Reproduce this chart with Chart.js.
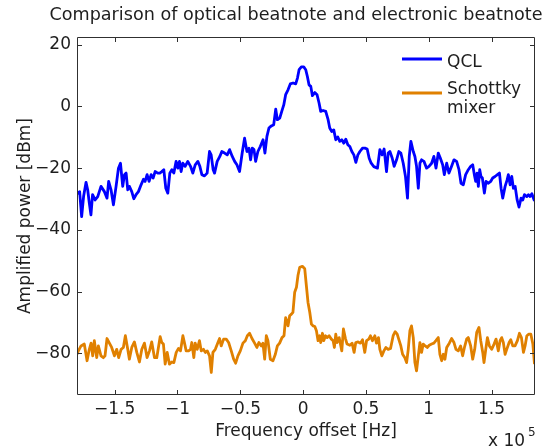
<!DOCTYPE html>
<html>
<head>
<meta charset="utf-8">
<title>Comparison of optical beatnote and electronic beatnote</title>
<script src="https://cdn.jsdelivr.net/npm/chart.js@4.4.1/dist/chart.umd.min.js"></script>
<style>
  html, body { margin: 0; padding: 0; background: #fff; }
  #wrap { width: 552px; height: 448px; }
</style>
</head>
<body>
<div id="wrap"><canvas id="beatnote"></canvas></div>
<script>
// frequency offsets are in units of 1e5 Hz (the axis shows "x 10^5")
const qclFreq = [
  -1.800, -1.789, -1.779, -1.763, -1.747, -1.728, -1.715, -1.702, -1.689, -1.676, -1.656, -1.635, -1.609, -1.582,
  -1.561, -1.548, -1.529, -1.510, -1.489, -1.470, -1.454, -1.436, -1.422, -1.409, -1.396, -1.383, -1.364, -1.348,
  -1.330, -1.311, -1.290, -1.271, -1.258, -1.242, -1.226, -1.210, -1.194, -1.178, -1.157, -1.141, -1.125, -1.109,
  -1.093, -1.077, -1.061, -1.045, -1.029, -1.011, -0.997, -0.984, -0.971, -0.958, -0.939, -0.918, -0.896, -0.878,
  -0.859, -0.838, -0.822, -0.806, -0.785, -0.764, -0.745, -0.732, -0.716, -0.705, -0.684, -0.663, -0.647, -0.625,
  -0.604, -0.585, -0.564, -0.545, -0.527, -0.506, -0.485, -0.466, -0.447, -0.431, -0.418, -0.405, -0.391, -0.378,
  -0.360, -0.341, -0.319, -0.304, -0.288, -0.272, -0.253, -0.234, -0.218, -0.205, -0.186, -0.170, -0.154, -0.139,
  -0.120, -0.102, -0.080, -0.059, -0.045, -0.032, -0.014, 0.005, 0.021, 0.034, 0.047, 0.061, 0.074, 0.093,
  0.111, 0.127, 0.140, 0.159, 0.180, 0.199, 0.212, 0.228, 0.244, 0.260, 0.276, 0.292, 0.308, 0.324,
  0.340, 0.356, 0.372, 0.388, 0.404, 0.420, 0.436, 0.452, 0.473, 0.492, 0.510, 0.526, 0.542, 0.563,
  0.592, 0.611, 0.629, 0.645, 0.664, 0.677, 0.691, 0.709, 0.725, 0.744, 0.762, 0.778, 0.797, 0.815,
  0.831, 0.845, 0.858, 0.877, 0.890, 0.903, 0.917, 0.930, 0.943, 0.962, 0.983, 1.002, 1.023, 1.041,
  1.058, 1.076, 1.092, 1.111, 1.124, 1.143, 1.161, 1.182, 1.201, 1.222, 1.241, 1.257, 1.275, 1.294,
  1.315, 1.334, 1.350, 1.363, 1.374, 1.385, 1.395, 1.406, 1.416, 1.427, 1.443, 1.456, 1.475, 1.493,
  1.509, 1.528, 1.547, 1.563, 1.576, 1.589, 1.608, 1.624, 1.634, 1.648, 1.661, 1.674, 1.688, 1.704,
  1.719, 1.735, 1.749, 1.762, 1.781, 1.794, 1.807, 1.821, 1.839, 1.846
];
const qclPower = [
  -27.6, -28.1, -27.6, -35.7, -29.0, -24.6, -27.0, -31.3, -35.1, -28.6, -30.3, -29.2, -25.9, -27.6,
  -29.7, -24.3, -27.0, -31.9, -25.9, -20.0, -18.4, -25.9, -22.1, -21.6, -27.0, -25.9, -27.6, -29.9,
  -28.6, -27.6, -25.4, -23.6, -24.3, -22.1, -24.3, -22.1, -23.2, -21.1, -21.6, -21.6, -21.1, -20.5,
  -26.5, -28.1, -21.6, -20.5, -21.6, -17.8, -20.0, -17.8, -21.1, -18.4, -19.4, -17.8, -19.4, -21.6,
  -18.9, -17.8, -19.4, -22.1, -22.5, -21.6, -14.6, -15.7, -20.5, -21.6, -17.8, -16.2, -14.6, -15.1,
  -15.7, -14.0, -16.2, -17.8, -18.9, -21.1, -15.1, -10.3, -14.6, -13.5, -17.3, -13.5, -14.0, -17.8,
  -14.6, -13.0, -10.8, -15.1, -9.7, -7.0, -6.3, -5.9, -0.9, -4.3, -3.8, -1.6, 0.5, 3.8,
  5.4, 7.3, 7.6, 7.3, 9.2, 11.9, 12.8, 12.8, 11.9, 9.7, 7.0, 6.5, 3.5, 4.5,
  3.8, 1.1, -1.6, -1.3, -1.6, -4.3, -7.0, -8.1, -7.6, -10.8, -9.9, -11.3, -10.8, -11.9,
  -10.6, -12.4, -13.0, -14.6, -15.7, -18.1, -15.7, -14.6, -13.5, -13.5, -13.8, -16.8, -18.4, -19.5,
  -20.0, -14.0, -15.7, -13.8, -21.1, -15.1, -14.6, -16.7, -19.4, -17.3, -14.6, -15.1, -18.4, -22.7,
  -29.7, -16.2, -11.3, -14.6, -16.2, -19.4, -26.5, -18.4, -17.3, -17.8, -20.0, -19.4, -18.4, -16.2,
  -20.0, -15.1, -16.7, -18.9, -22.1, -18.4, -21.6, -19.4, -17.3, -17.8, -20.5, -24.9, -25.4, -22.1,
  -20.5, -19.4, -18.9, -22.1, -24.3, -21.6, -25.9, -20.5, -22.7, -23.2, -28.1, -24.3, -24.9, -24.3,
  -23.2, -22.7, -22.1, -21.6, -26.5, -29.7, -25.9, -23.8, -22.1, -25.4, -22.7, -26.5, -25.9, -30.3,
  -32.6, -29.7, -30.3, -28.6, -29.2, -28.6, -29.2, -28.3, -30.3, -29.0
];

const mixerFreq = [
  -1.800, -1.789, -1.768, -1.742, -1.720, -1.702, -1.688, -1.675, -1.662, -1.643, -1.630, -1.609, -1.590, -1.577,
  -1.561, -1.542, -1.524, -1.502, -1.484, -1.468, -1.449, -1.431, -1.415, -1.396, -1.383, -1.364, -1.343, -1.324,
  -1.303, -1.284, -1.263, -1.242, -1.223, -1.205, -1.183, -1.165, -1.138, -1.125, -1.112, -1.098, -1.082, -1.064,
  -1.045, -1.029, -1.010, -0.992, -0.976, -0.957, -0.944, -0.931, -0.912, -0.896, -0.886, -0.870, -0.859, -0.843,
  -0.825, -0.811, -0.793, -0.779, -0.763, -0.745, -0.731, -0.718, -0.699, -0.678, -0.665, -0.652, -0.633, -0.612,
  -0.593, -0.572, -0.553, -0.537, -0.519, -0.500, -0.479, -0.460, -0.444, -0.426, -0.407, -0.386, -0.368, -0.352,
  -0.333, -0.320, -0.306, -0.293, -0.280, -0.261, -0.240, -0.221, -0.205, -0.187, -0.168, -0.152, -0.139, -0.120,
  -0.107, -0.093, -0.081, -0.067, -0.053, -0.041, -0.027, -0.006, 0.013, 0.026, 0.039, 0.053, 0.066, 0.079,
  0.093, 0.106, 0.119, 0.132, 0.140, 0.154, 0.164, 0.178, 0.191, 0.207, 0.225, 0.239, 0.249, 0.260,
  0.271, 0.287, 0.297, 0.308, 0.321, 0.337, 0.350, 0.372, 0.390, 0.406, 0.419, 0.438, 0.457, 0.473,
  0.491, 0.505, 0.523, 0.536, 0.552, 0.571, 0.584, 0.600, 0.611, 0.627, 0.643, 0.659, 0.677, 0.696,
  0.717, 0.733, 0.749, 0.765, 0.778, 0.792, 0.810, 0.824, 0.837, 0.850, 0.863, 0.877, 0.890, 0.903,
  0.917, 0.930, 0.943, 0.956, 0.972, 0.988, 1.004, 1.023, 1.041, 1.057, 1.076, 1.089, 1.103, 1.116,
  1.129, 1.143, 1.164, 1.182, 1.201, 1.217, 1.235, 1.254, 1.270, 1.286, 1.302, 1.315, 1.334, 1.350,
  1.366, 1.382, 1.400, 1.414, 1.430, 1.440, 1.454, 1.467, 1.483, 1.501, 1.520, 1.536, 1.554, 1.568,
  1.581, 1.594, 1.608, 1.621, 1.640, 1.653, 1.669, 1.687, 1.706, 1.722, 1.738, 1.754, 1.767, 1.781,
  1.797, 1.813, 1.829, 1.842
];
const mixerPower = [
  -80.3, -79.2, -77.6, -77.0, -82.4, -78.7, -76.7, -80.8, -75.9, -81.4, -77.6, -80.8, -81.4, -80.8,
  -75.2, -76.7, -78.1, -80.8, -78.7, -81.4, -78.7, -78.1, -74.3, -78.7, -81.9, -78.1, -76.3, -79.7,
  -82.8, -78.7, -76.7, -81.4, -79.2, -76.3, -81.4, -81.4, -74.6, -76.5, -77.0, -83.5, -79.7, -83.5,
  -82.8, -83.0, -79.7, -78.4, -79.2, -74.3, -76.7, -79.2, -79.2, -78.7, -76.5, -81.4, -76.7, -78.7,
  -75.9, -79.2, -78.7, -79.7, -79.2, -80.8, -86.2, -79.7, -78.7, -76.5, -75.2, -77.6, -75.4, -75.4,
  -76.5, -79.2, -81.9, -83.2, -80.8, -79.2, -76.7, -75.9, -74.3, -73.5, -75.2, -76.7, -78.1, -76.5,
  -77.6, -76.7, -81.9, -74.3, -75.9, -81.9, -82.4, -80.3, -77.6, -76.7, -74.9, -74.3, -68.4, -71.1,
  -67.8, -67.3, -66.7, -60.2, -58.6, -54.8, -52.1, -51.8, -52.6, -58.1, -63.5, -66.7, -70.5, -71.1,
  -71.3, -72.7, -75.9, -74.3, -76.5, -73.5, -75.9, -74.3, -74.9, -74.3, -75.4, -75.9, -78.1, -73.8,
  -76.5, -74.9, -77.0, -79.2, -72.1, -75.2, -77.0, -77.4, -76.7, -79.7, -76.5, -76.3, -76.7, -75.6,
  -79.7, -75.9, -75.4, -74.3, -75.9, -74.3, -76.7, -74.9, -78.7, -80.8, -79.2, -78.1, -78.7, -78.4,
  -74.3, -73.0, -73.8, -75.9, -77.6, -80.3, -81.4, -83.0, -78.7, -72.7, -71.1, -74.9, -83.0, -85.7,
  -80.8, -76.5, -79.7, -77.0, -77.6, -78.1, -77.4, -77.0, -76.7, -75.9, -74.9, -80.3, -82.4, -80.3,
  -81.9, -78.1, -76.7, -75.2, -76.5, -78.7, -79.2, -77.6, -80.8, -77.8, -75.4, -74.9, -77.6, -81.9,
  -78.7, -73.2, -71.6, -75.9, -79.7, -83.0, -78.7, -74.9, -77.6, -78.7, -77.0, -75.4, -79.2, -75.9,
  -74.9, -76.5, -80.3, -78.7, -76.5, -75.6, -77.6, -77.6, -75.9, -73.5, -74.9, -79.7, -77.6, -74.3,
  -73.8, -73.8, -77.0, -83.5
];

const seriesNames = ['QCL', 'Schottky\nmixer'];
const seriesColors = ['#0000ff', '#e08000'];
const xTicks = [-1.5, -1, -0.5, 0, 0.5, 1, 1.5];
const yTicks = [-80, -60, -40, -20, 0, 20];

const fontFamily = "'DejaVu Sans', sans-serif";
const textColor = '#1e1e1e';

const toPoints = (xs, ys) => xs.map((x, i) => ({ x: x, y: ys[i] }));
const minusSign = v => String(v).replace('-', '\u2212');

// matlab style frame: full box, inward ticks, own title/legend/exponent
const matlabFrame = {
  id: 'matlabFrame',
  afterDatasetsDraw(chart) {
    const { ctx, chartArea: a, scales } = chart;
    const len = 5;
    ctx.save();
    ctx.strokeStyle = '#303030';
    ctx.lineWidth = 1;
    ctx.beginPath();
    ctx.rect(a.left + 0.5, a.top + 0.5, a.right - a.left - 1, a.bottom - a.top - 1);
    scales.x.ticks.forEach(t => {
      const px = Math.round(scales.x.getPixelForValue(t.value)) + 0.5;
      ctx.moveTo(px, a.bottom); ctx.lineTo(px, a.bottom - len);
      ctx.moveTo(px, a.top); ctx.lineTo(px, a.top + len);
    });
    scales.y.ticks.forEach(t => {
      const py = Math.round(scales.y.getPixelForValue(t.value)) + 0.5;
      ctx.moveTo(a.left, py); ctx.lineTo(a.left + len, py);
      ctx.moveTo(a.right, py); ctx.lineTo(a.right - len, py);
    });
    ctx.stroke();
    ctx.restore();
  },
  afterDraw(chart) {
    const { ctx, chartArea: a } = chart;
    ctx.save();
    ctx.fillStyle = textColor;

    // title
    ctx.font = '17.6px ' + fontFamily;
    ctx.textAlign = 'center';
    ctx.textBaseline = 'alphabetic';
    ctx.fillText('Comparison of optical beatnote and electronic beatnote', 296, 20);

    // legend, top right inside the axes, no box
    ctx.font = '17px ' + fontFamily;
    const rows = [{ line: a.top + 22, base: a.top + 29.5 }, { line: a.top + 56, base: a.top + 57 }];
    ctx.textAlign = 'left';
    chart.data.datasets.forEach((ds, i) => {
      const r = rows[i];
      ctx.strokeStyle = ds.borderColor;
      ctx.lineWidth = 2.8;
      ctx.beginPath();
      ctx.moveTo(a.right - 133, r.line);
      ctx.lineTo(a.right - 93, r.line);
      ctx.stroke();
      ds.label.split('\n').forEach((txt, k) => {
        ctx.fillText(txt, a.right - 88, r.base + k * 18.5);
      });
    });

    // axis multiplier
    ctx.fillText('x 10', a.right - 47, 446);
    ctx.font = '12px ' + fontFamily;
    ctx.fillText('5', a.right - 7, 436);
    ctx.restore();
  }
};

Chart.defaults.font.family = fontFamily;
Chart.defaults.font.size = 17;
Chart.defaults.color = textColor;

const ctx = document.getElementById('beatnote').getContext('2d');

const beatnoteChart = new Chart(ctx, {
  type: 'line',
  data: {
    datasets: [{
      label: seriesNames[0],
      data: toPoints(qclFreq, qclPower),
      borderColor: seriesColors[0],
      borderWidth: 2.8,
      pointRadius: 0,
      fill: false,
      tension: 0,
      borderJoinStyle: 'round'
    }, {
      label: seriesNames[1],
      data: toPoints(mixerFreq, mixerPower),
      borderColor: seriesColors[1],
      borderWidth: 2.8,
      pointRadius: 0,
      fill: false,
      tension: 0,
      borderJoinStyle: 'round'
    }]
  },
  options: {
    responsive: true,
    maintainAspectRatio: false,
    animation: false,
    events: [],
    layout: { padding: { top: 37, right: 17, bottom: 0, left: 0 } },
    plugins: {
      legend: { display: false },
      tooltip: { enabled: false },
      title: { display: false }
    },
    scales: {
      x: {
        type: 'linear',
        min: -1.8,
        max: 1.846,
        afterBuildTicks: s => { s.ticks = xTicks.map(v => ({ value: v })); },
        afterFit: s => { s.height = 53; },
        grid: { display: false, drawTicks: false },
        border: { display: false },
        ticks: { padding: 4, maxRotation: 0, autoSkip: false, callback: v => minusSign(v) },
        title: { display: true, text: 'Frequency offset [Hz]', padding: { top: 0, bottom: 6 } }
      },
      y: {
        min: -93.5,
        max: 22.5,
        afterBuildTicks: s => { s.ticks = yTicks.map(v => ({ value: v })); },
        afterFit: s => { s.width = 77; },
        grid: { display: false, drawTicks: false },
        border: { display: false },
        ticks: { padding: 6, callback: v => minusSign(v) },
        title: { display: true, text: 'Amplified power [dBm]', padding: { top: 15, bottom: 0 } }
      }
    }
  },
  plugins: [matlabFrame]
});
</script>
</body>
</html>
